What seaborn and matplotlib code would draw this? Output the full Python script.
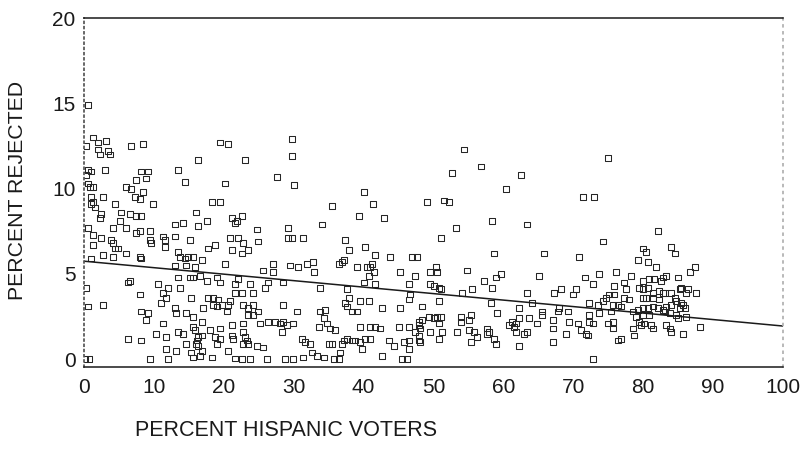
import numpy as np
import pandas as pd
import seaborn as sns
import matplotlib.pyplot as plt

# values, grouped by band of % Hispanic voters
hisp_a = [0.6, 1.3, 2.0, 3.1, 0.3, 2.0, 3.4, 2.3, 3.7, 6.7,
          8.4, 0.6, 1.0, 3.0, 0.3, 8.2, 9.2, 13.4, 8.9, 7.4,
          14.4, 16.3, 0.9, 1.3, 0.6, 6.0, 6.7, 8.4, 1.0, 1.3,
          2.7, 7.3, 8.0, 9.9, 1.0, 1.6, 4.4, 2.4, 2.3, 5.3,
          6.6, 7.4, 8.2, 5.2, 0.6, 4.1, 6.0, 13.0, 14.2, 16.0]
rej_a = [14.9, 13.0, 12.7, 12.8, 12.5, 12.3, 12.2, 12.0, 12.0, 12.5,
         12.6, 11.1, 11.0, 11.1, 10.8, 11.0, 11.0, 11.1, 10.6, 10.5,
         10.4, 11.7, 10.1, 10.1, 10.3, 10.1, 10.0, 9.8, 9.5, 9.2,
         9.5, 9.5, 9.4, 9.1, 9.1, 8.9, 9.1, 8.5, 8.3, 8.6,
         8.5, 8.4, 8.4, 8.1, 7.7, 7.7, 7.7, 7.9, 8.0, 8.6]

hisp_b = [7.4, 8.0, 9.4, 1.3, 2.4, 3.9, 4.1, 9.4, 9.6, 11.3,
          11.6, 13.0, 15.2, 11.6, 1.3, 4.4, 4.9, 2.7, 4.1, 6.0,
          8.0, 8.2, 1.0, 13.4, 13.7, 14.4, 14.9, 15.6, 13.0, 14.6,
          15.9, 13.4, 15.2, 15.6, 6.6, 6.3, 0.3, 10.6, 12.0, 13.7,
          8.0, 11.3, 11.7, 11.0, 15.3, 0.6, 2.7, 13.0, 13.2, 8.2,
          9.2, 8.9, 14.6, 15.6, 11.3, 15.6, 15.9, 13.4, 14.2, 10.3,
          6.3, 8.2, 11.7, 14.6, 16.0, 11.7, 13.2, 15.3, 15.6, 0.2,
          0.8, 9.4, 12.0]
rej_b = [7.4, 7.5, 7.5, 7.3, 7.1, 7.0, 6.8, 7.0, 6.8, 7.2,
         7.0, 7.2, 7.0, 6.6, 6.7, 6.5, 6.5, 6.1, 6.0, 6.2,
         6.0, 5.9, 5.9, 6.3, 6.0, 5.9, 6.0, 6.0, 5.5, 5.5,
         5.4, 4.8, 4.8, 4.8, 4.6, 4.5, 4.2, 4.4, 4.2, 4.2,
         3.8, 3.9, 3.6, 3.3, 3.6, 3.1, 3.2, 3.0, 2.7, 2.8,
         2.7, 2.3, 2.7, 2.5, 2.1, 1.9, 1.7, 1.6, 1.5, 1.5,
         1.2, 1.1, 1.3, 0.9, 0.9, 0.6, 0.5, 0.4, 0.1, 0.0,
         0.0, 0.0, 0.0]

hisp_c = [19.5, 20.6, 29.8, 23.0, 29.8, 27.6, 30.0, 20.2, 18.3, 19.5,
          17.6, 21.2, 21.9, 22.6, 21.6, 24.7, 29.2, 16.3, 20.9, 22.0,
          22.7, 24.9, 29.2, 29.8, 31.3, 17.7, 18.7, 21.2, 22.6, 23.5,
          16.9, 20.2, 25.6, 27.0, 27.0, 29.5, 30.6, 31.9, 32.8, 16.6,
          17.6, 19.0, 19.5, 22.0, 21.6, 23.7, 25.9, 26.3, 28.5, 21.6,
          22.6, 24.2, 17.7, 18.5, 19.2, 20.9, 20.6, 19.7, 17.0, 18.5,
          19.0, 22.7, 23.5, 24.2, 28.5, 30.5, 20.5, 23.5, 24.2, 24.9,
          26.3, 27.3, 28.0, 28.5, 29.0, 29.9, 16.9, 21.2, 22.7, 25.2,
          22.7, 28.3, 18.0, 19.5, 16.3, 16.9, 16.2, 18.7, 19.5, 19.0,
          21.2, 21.3, 23.0, 23.3, 23.5, 22.7, 24.7, 25.6, 31.2, 32.3,
          31.6, 16.3, 16.9, 16.6, 18.3, 20.6, 21.6, 22.6, 23.7, 26.2,
          28.8, 31.3, 32.6, 29.9]
rej_c = [12.7, 12.6, 12.9, 11.7, 11.9, 10.7, 10.2, 10.3, 9.2, 9.2,
         8.1, 8.3, 8.1, 8.4, 8.0, 7.6, 7.7, 7.8, 7.1, 7.1,
         6.8, 6.9, 7.1, 7.1, 7.1, 6.5, 6.7, 6.4, 6.2, 6.4,
         5.8, 5.6, 5.2, 5.6, 5.1, 5.5, 5.4, 5.6, 5.7, 4.9,
         4.6, 4.8, 4.5, 4.7, 4.4, 4.4, 4.2, 4.5, 4.5, 3.9,
         3.9, 3.9, 3.6, 3.6, 3.5, 3.4, 3.2, 3.2, 3.0, 3.2,
         3.1, 3.2, 3.0, 3.2, 3.2, 2.8, 2.8, 2.6, 2.6, 2.8,
         2.2, 2.2, 2.1, 2.2, 2.0, 2.1, 2.2, 2.0, 2.1, 2.1,
         1.6, 1.6, 1.7, 1.8, 1.3, 1.4, 1.1, 1.3, 1.2, 0.9,
         1.4, 1.2, 1.3, 1.1, 0.9, 0.9, 0.8, 0.7, 1.2, 0.9,
         1.0, 0.8, 0.5, 0.2, 0.1, 0.5, 0.05, 0.0, 0.0, 0.0,
         0.0, 0.1, 0.4, 0.0]

hisp_d = [40.1, 35.5, 41.3, 49.1, 39.3, 42.9, 34.0, 37.3, 37.9, 40.2,
          41.6, 43.8, 46.9, 47.6, 36.5, 36.9, 37.2, 39.1, 40.5, 40.9,
          41.2, 32.9, 45.2, 47.4, 49.5, 40.8, 41.5, 40.1, 41.6, 46.5,
          49.5, 33.8, 37.6, 46.6, 46.5, 37.9, 37.3, 37.6, 39.5, 40.8,
          38.3, 39.1, 42.6, 45.2, 48.4, 33.8, 34.5, 34.3, 34.8, 35.2,
          35.9, 33.6, 39.5, 40.9, 41.6, 42.3, 45.1, 46.5, 47.9, 48.4,
          47.9, 48.1, 47.4, 47.9, 49.5, 35.1, 35.5, 36.9, 37.2, 37.6,
          38.3, 38.8, 39.5, 40.2, 40.9, 43.6, 44.3, 45.8, 46.5, 47.9,
          48.1, 36.6, 39.8, 46.5, 33.3, 34.3, 42.6, 35.8, 36.5, 45.5,
          46.2]
rej_d = [9.8, 9.0, 9.1, 9.2, 8.4, 8.3, 7.9, 7.0, 6.4, 6.6,
         6.1, 6.0, 6.0, 6.0, 5.6, 5.7, 5.8, 5.4, 5.4, 5.4,
         5.6, 5.1, 5.1, 4.9, 5.1, 4.9, 5.1, 4.5, 4.4, 4.4,
         4.4, 4.2, 4.1, 3.8, 3.5, 3.6, 3.3, 3.1, 3.4, 3.4,
         2.8, 2.8, 3.0, 3.0, 3.1, 2.8, 2.9, 2.4, 2.1, 1.8,
         1.7, 1.9, 1.9, 1.9, 1.9, 1.8, 1.9, 1.9, 2.2, 2.3,
         2.0, 1.8, 1.6, 1.4, 1.6, 0.9, 0.9, 0.9, 1.1, 1.2,
         1.1, 1.1, 1.0, 1.2, 1.2, 1.1, 0.8, 1.0, 1.1, 1.1,
         1.0, 0.4, 0.6, 0.6, 0.2, 0.1, 0.2, 0.0, 0.0, 0.0,
         0.0]

hisp_e = [54.4, 56.8, 52.6, 62.5, 60.4, 51.5, 52.2, 58.4, 63.4, 53.2,
          51.1, 58.7, 65.8, 50.4, 50.5, 54.8, 57.2, 58.9, 59.7, 65.1,
          50.1, 50.8, 51.1, 58.4, 54.1, 55.5, 63.4, 50.8, 58.2, 64.1,
          62.2, 65.5, 65.5, 49.4, 50.1, 50.5, 51.1, 53.9, 55.4, 59.1,
          62.2, 63.7, 50.8, 53.9, 55.1, 61.2, 61.8, 60.8, 61.5, 64.8,
          53.4, 55.1, 55.8, 57.7, 57.9, 61.8, 62.9, 63.4, 51.2, 50.8,
          56.2, 55.4, 57.7, 58.7, 58.9, 62.2]
rej_e = [12.3, 11.3, 10.9, 10.8, 10.0, 9.3, 9.2, 8.1, 7.9, 7.7,
         7.1, 6.2, 6.2, 5.4, 5.1, 5.2, 4.6, 4.8, 5.0, 4.9,
         4.3, 4.2, 4.1, 4.2, 3.9, 4.1, 3.9, 3.4, 3.3, 3.3,
         3.0, 2.8, 2.6, 2.5, 2.4, 2.5, 2.5, 2.5, 2.6, 2.7,
         2.4, 2.4, 2.1, 2.2, 2.3, 2.2, 2.1, 2.0, 1.9, 2.1,
         1.6, 1.7, 1.6, 1.8, 1.6, 1.6, 1.5, 1.6, 1.6, 1.2,
         1.3, 1.0, 1.5, 1.2, 0.9, 0.8]

hisp_f = [75.0, 71.4, 73.0, 82.1, 74.2, 70.8, 80.0, 80.4, 79.3, 80.7,
          81.8, 71.7, 73.7, 76.1, 78.3, 72.8, 75.8, 77.3, 80.0, 80.8,
          81.5, 82.5, 82.8, 79.4, 80.0, 80.7, 81.4, 82.3, 82.8, 77.5,
          77.3, 67.2, 68.2, 70.0, 70.4, 75.1, 75.8, 74.7, 78.0, 80.0,
          80.4, 81.4, 82.3, 72.2, 73.5, 74.2, 75.7, 76.4, 76.8, 68.0,
          67.8, 69.2, 72.2, 73.7, 75.4, 78.5, 79.3, 80.0, 80.7, 81.4,
          82.1, 82.8, 79.0, 80.0, 80.8, 67.1, 69.4, 70.7, 72.2, 72.8,
          75.0, 75.7, 79.4, 79.7, 80.1, 81.1, 81.4, 67.1, 71.1, 71.8,
          72.1, 75.7, 78.5, 69.0, 78.7, 76.4, 76.8, 67.1, 72.8, 84.0,
          84.5, 87.4, 86.7, 83.3, 85.0, 83.1, 84.0, 85.3, 86.4, 87.6,
          86.1, 85.4, 84.5, 84.7, 85.4, 85.7, 83.3, 84.0, 85.3, 86.0,
          83.1, 83.8, 84.7, 85.0, 86.1, 83.3, 83.8, 84.0, 85.7, 88.1]
rej_f = [11.8, 9.5, 9.5, 7.5, 6.9, 6.0, 6.5, 6.3, 5.8, 5.7,
         5.4, 4.8, 5.0, 5.1, 4.9, 4.4, 4.3, 4.5, 4.6, 4.7,
         4.7, 4.6, 4.8, 4.2, 4.1, 4.2, 3.9, 4.0, 3.9, 4.1,
         3.6, 3.9, 4.1, 3.8, 4.1, 3.8, 3.8, 3.6, 3.5, 3.6,
         3.6, 3.6, 3.5, 3.3, 3.2, 3.4, 3.2, 3.2, 3.1, 3.0,
         2.8, 2.8, 2.6, 2.7, 2.8, 2.8, 2.9, 3.0, 3.0, 3.1,
         3.0, 2.9, 2.5, 2.6, 2.6, 2.3, 2.2, 2.1, 2.2, 2.1,
         2.1, 2.2, 2.2, 2.0, 2.1, 2.0, 1.8, 1.8, 1.7, 1.5,
         1.4, 1.8, 1.8, 1.5, 1.4, 1.1, 1.2, 1.0, 0.0, 6.6,
         6.2, 5.4, 5.1, 4.9, 4.8, 3.9, 3.9, 4.1, 4.1, 3.9,
         3.9, 4.2, 3.6, 3.4, 3.3, 3.2, 3.1, 3.2, 3.0, 3.0,
         2.8, 2.7, 2.6, 2.4, 2.5, 2.0, 1.8, 1.6, 1.5, 1.9]

# fitted line as printed
fit_x = [0, 100]
fit_y = [5.75, 1.95]

x_ticks = list(range(0, 101, 10))
y_ticks = [0, 5, 10, 15, 20]

df = pd.DataFrame({
    "hispanic": hisp_a + hisp_b + hisp_c + hisp_d + hisp_e + hisp_f,
    "rejected": rej_a + rej_b + rej_c + rej_d + rej_e + rej_f,
})

sns.set_theme(style="white")
plt.rcParams["font.family"] = ["Liberation Sans", "DejaVu Sans"]

ink = "#1a1a1a"
fig = plt.figure(figsize=(8.05, 4.67), dpi=100)
ax = fig.add_axes([84 / 805, 1 - 367 / 467, 699 / 805, 349 / 467])

sns.scatterplot(data=df, x="hispanic", y="rejected", ax=ax, marker="s", s=17,
                facecolors="none", edgecolors="#262626", linewidth=0.75)
sns.lineplot(x=fit_x, y=fit_y, ax=ax, color=ink, linewidth=1.1)

ax.set_xlim(0, 100)
ax.set_ylim(-0.45, 20)
ax.set_xticks(x_ticks)
ax.set_yticks(y_ticks)
ax.tick_params(axis="both", labelsize=15, colors=ink, direction="out")
ax.tick_params(axis="x", length=5, width=1, pad=3)
ax.tick_params(axis="y", length=3, width=1, pad=3)
ax.set_xlabel("")
ax.set_ylabel("")

for side in ["top", "bottom"]:
    ax.spines[side].set_color(ink)
    ax.spines[side].set_linewidth(1.1)
ax.spines["left"].set_color("#555555")
ax.spines["left"].set_linestyle((0, (1, 2)))
ax.spines["right"].set_color("#b0b0b0")
ax.spines["right"].set_linestyle((0, (1, 3)))

fig.text(18 / 805, 1 - 190 / 467, "PERCENT REJECTED", rotation=90,
         ha="center", va="center", fontsize=15.3, color=ink)
fig.text(135 / 805, 1 - 430 / 467, "PERCENT HISPANIC VOTERS",
         ha="left", va="center", fontsize=15.5, color=ink)

fig.savefig("out.png", dpi=100, facecolor="white")
